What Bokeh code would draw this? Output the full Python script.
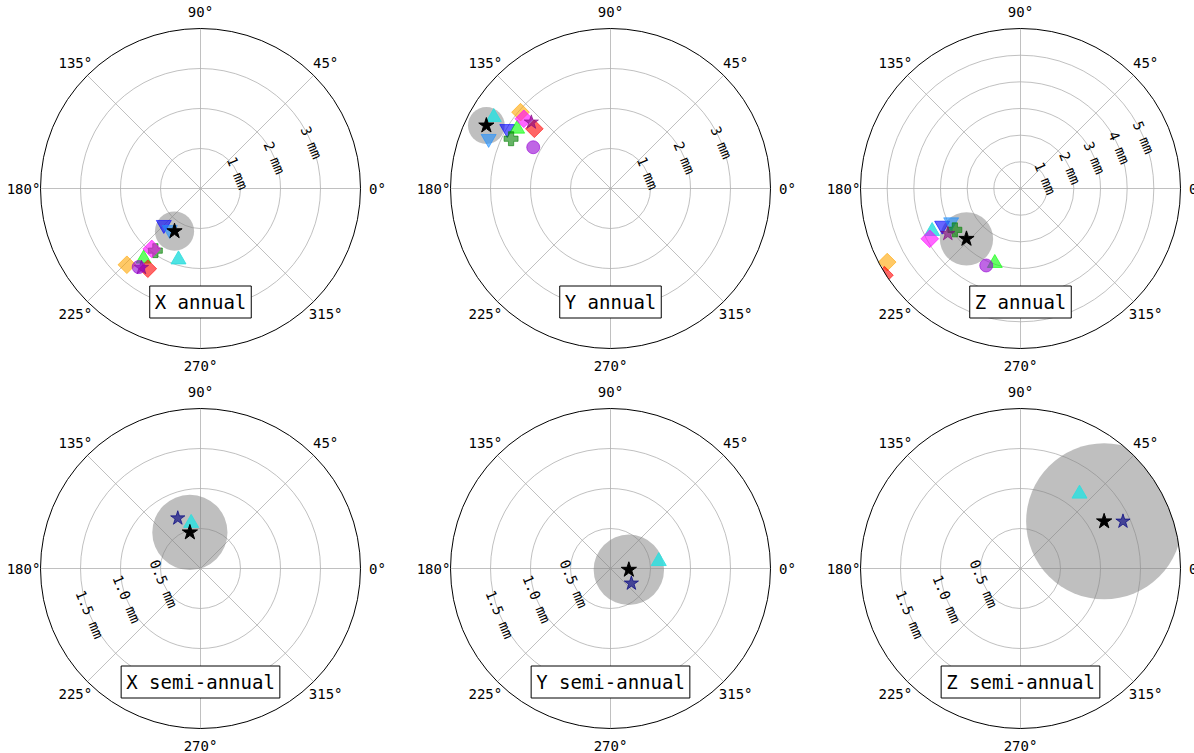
import numpy as np
from bokeh.plotting import figure
from bokeh.layouts import column, row
from bokeh.models import Range1d, Label
from bokeh.core.properties import value
from bokeh.embed import file_html
from bokeh.resources import INLINE

FONT = "DejaVu Sans Mono"

# ---------------------------------------------------------------------------
# Seasonal terms: amplitude (mm) and phase (deg) for each solution
# ---------------------------------------------------------------------------
annual_solutions = ["S01", "S02", "S03", "S04", "S05", "S06", "S07", "S08", "S09", "S10"]

x_annual_amp = [1.86, 1.29, 1.29, 2.26, 1.92, 2.65, 1.94, 2.40, 2.47, 2.50]
x_annual_phase = [252.8, 224.7, 233.4, 231.0, 234.0, 226.0, 231.1, 236.7, 233.3, 231.8]

y_annual_amp = [3.42, 2.98, 3.29, 2.77, 2.78, 2.95, 2.78, 2.42, 2.58, 2.19]
y_annual_phase = [148.6, 150.0, 157.8, 147.4, 153.4, 139.7, 141.2, 141.9, 140.1, 151.9]

z_annual_amp = [3.68, 3.25, 2.89, 2.96, 2.91, 5.71, 3.89, 6.05, 3.21, 3.16]
z_annual_phase = [205.8, 205.3, 205.9, 251.0, 212.2, 208.9, 209.0, 212.5, 211.9, 246.0]

semi_solutions = ["S01", "S11"]

x_semi_amp = [0.58, 0.69]
x_semi_phase = [101.6, 114.3]

y_semi_amp = [0.61, 0.32]
y_semi_phase = [8.6, 324.6]

z_semi_amp = [1.19, 1.41]
z_semi_phase = [51.7, 24.7]

# Combined estimate and its uncertainty radius (mm)
mean_amp = [1.25, 3.48, 2.77, 0.47, 0.23, 1.20]
mean_phase = [238.7, 153.1, 223.0, 106.4, 356.0, 29.4]
mean_sigma = [0.49, 0.46, 1.00, 0.47, 0.44, 0.975]

titles = ["X annual", "Y annual", "Z annual",
          "X semi-annual", "Y semi-annual", "Z semi-annual"]
r_max = [4, 4, 6, 2, 2, 2]
r_ticks = [[1, 2, 3], [1, 2, 3], [1, 2, 3, 4, 5],
           [0.5, 1.0, 1.5], [0.5, 1.0, 1.5], [0.5, 1.0, 1.5]]
r_tick_labels = [["1 mm", "2 mm", "3 mm"], ["1 mm", "2 mm", "3 mm"],
                 ["1 mm", "2 mm", "3 mm", "4 mm", "5 mm"],
                 ["0.5 mm", "1.0 mm", "1.5 mm"], ["0.5 mm", "1.0 mm", "1.5 mm"],
                 ["0.5 mm", "1.0 mm", "1.5 mm"]]
r_label_angle = [22.5, 22.5, 22.5, 202.5, 202.5, 202.5]
theta_ticks = [0, 45, 90, 135, 180, 225, 270, 315]

# Marker style for every solution
styles = {
    "S01": dict(marker="triangle", color="#2fdede", alpha=0.85, size=15, angle=0.0),
    "S02": dict(marker="inverted_triangle", color="#0000ff", alpha=0.6, size=15, angle=0.0),
    "S03": dict(marker="inverted_triangle", color="#1e90ff", alpha=0.6, size=15, angle=0.0),
    "S04": dict(marker="triangle", color="#00ff00", alpha=0.6, size=15, angle=0.0),
    "S05": dict(marker="plus", color="#008000", alpha=0.6, size=14, angle=0.0),
    "S06": dict(marker="square", color="#ffa500", alpha=0.6, size=12.5, angle=np.pi / 4),
    "S07": dict(marker="square", color="#ff00ff", alpha=0.6, size=12.5, angle=np.pi / 4),
    "S08": dict(marker="square", color="#ff0000", alpha=0.6, size=12.5, angle=np.pi / 4),
    "S09": dict(marker="star", color="#800080", alpha=0.6, size=15, angle=0.0),
    "S10": dict(marker="circle", color="#9400d3", alpha=0.6, size=13, angle=0.0),
    "S11": dict(marker="star", color="#000080", alpha=0.65, size=15, angle=0.0),
}

panels = [
    (annual_solutions, x_annual_amp, x_annual_phase),
    (annual_solutions, y_annual_amp, y_annual_phase),
    (annual_solutions, z_annual_amp, z_annual_phase),
    (semi_solutions, x_semi_amp, x_semi_phase),
    (semi_solutions, y_semi_amp, y_semi_phase),
    (semi_solutions, z_semi_amp, z_semi_phase),
]

# Layout of the 2 x 3 grid (pixels)
R_PX = 160
col_widths = [405, 410, 379]
col_cx = [200, 205, 205]
row_heights = [380, 373]
row_cy = 188


def polar(r, deg):
    t = np.deg2rad(np.asarray(deg, dtype=float))
    r = np.asarray(r, dtype=float)
    return r * np.cos(t), r * np.sin(t)


def make_panel(i):
    c, rw = i % 3, i // 3
    w, h = col_widths[c], row_heights[rw]
    cx, cy = col_cx[c], row_cy
    rm = r_max[i]
    k = R_PX / rm  # pixels per mm

    p = figure(width=w, height=h,
               x_range=Range1d(-cx / k, (w - cx) / k),
               y_range=Range1d(-(h - cy) / k, cy / k),
               output_backend="svg", toolbar_location=None,
               x_axis_type=None, y_axis_type=None,
               min_border=0, outline_line_color=None,
               background_fill_color="white", border_fill_color="white")
    p.grid.visible = False

    # polar grid
    p.circle(x=[0] * len(r_ticks[i]), y=[0] * len(r_ticks[i]), radius=r_ticks[i],
             fill_color=None, line_color="#b0b0b0", line_width=0.8)
    sx, sy = polar([rm] * len(theta_ticks), theta_ticks)
    p.segment(x0=[0] * len(theta_ticks), y0=[0] * len(theta_ticks), x1=sx, y1=sy,
              line_color="#b0b0b0", line_width=0.8)

    # uncertainty disc of the combined estimate
    mx, my = polar([mean_amp[i]], [mean_phase[i]])
    p.circle(x=mx, y=my, radius=mean_sigma[i], fill_color="gray",
             fill_alpha=0.5, line_color=None)

    # individual solutions
    names, amp, phase = panels[i]
    for name, a, ph in zip(names, amp, phase):
        st = styles[name]
        x, y = polar([a], [ph])
        p.scatter(x=x, y=y, marker=st["marker"], size=st["size"], angle=st["angle"],
                  fill_color=st["color"], fill_alpha=st["alpha"],
                  line_color=st["color"], line_alpha=st["alpha"], line_width=1)

    # combined estimate
    p.scatter(x=mx, y=my, marker="star", size=16, fill_color="black",
              line_color="black")

    # clip everything outside the polar frame
    big = 4 * rm
    tt = np.linspace(0, 2 * np.pi, 361)
    hx = list(rm * np.cos(tt))
    hy = list(rm * np.sin(tt))
    p.multi_polygons(xs=[[[[-big, big, big, -big], hx]]],
                     ys=[[[[-big, -big, big, big], hy]]],
                     fill_color="white", line_color=None)

    p.circle(x=[0], y=[0], radius=rm, fill_color=None, line_color="black", line_width=1)

    # angular tick labels
    lx, ly = polar([rm * (R_PX + 17) / R_PX] * len(theta_ticks), theta_ticks)
    p.text(x=lx, y=ly, text=[f"{t}°" for t in theta_ticks],
           text_font=value(FONT), text_font_size="14px", text_color="black",
           text_align="center", text_baseline="middle")

    # radial tick labels
    rx, ry = polar(r_ticks[i], [r_label_angle[i]] * len(r_ticks[i]))
    p.text(x=rx, y=ry, text=r_tick_labels[i], angle=np.deg2rad(-67.5),
           text_font=value(FONT), text_font_size="14px", text_color="black",
           text_align="center", text_baseline="middle")

    # panel title box
    p.add_layout(Label(x=0, y=-113.5 / k, text=titles[i],
                       text_align="center", text_baseline="middle",
                       text_font=FONT, text_font_size="19px", text_color="black",
                       background_fill_color="white", background_fill_alpha=1.0,
                       border_line_color="black", border_line_width=1,
                       padding=5))
    return p


figs = [make_panel(i) for i in range(6)]
layout = column(row(*figs[:3], spacing=0), row(*figs[3:], spacing=0), spacing=0)

open("out.html", "w").write(file_html(layout, INLINE))
